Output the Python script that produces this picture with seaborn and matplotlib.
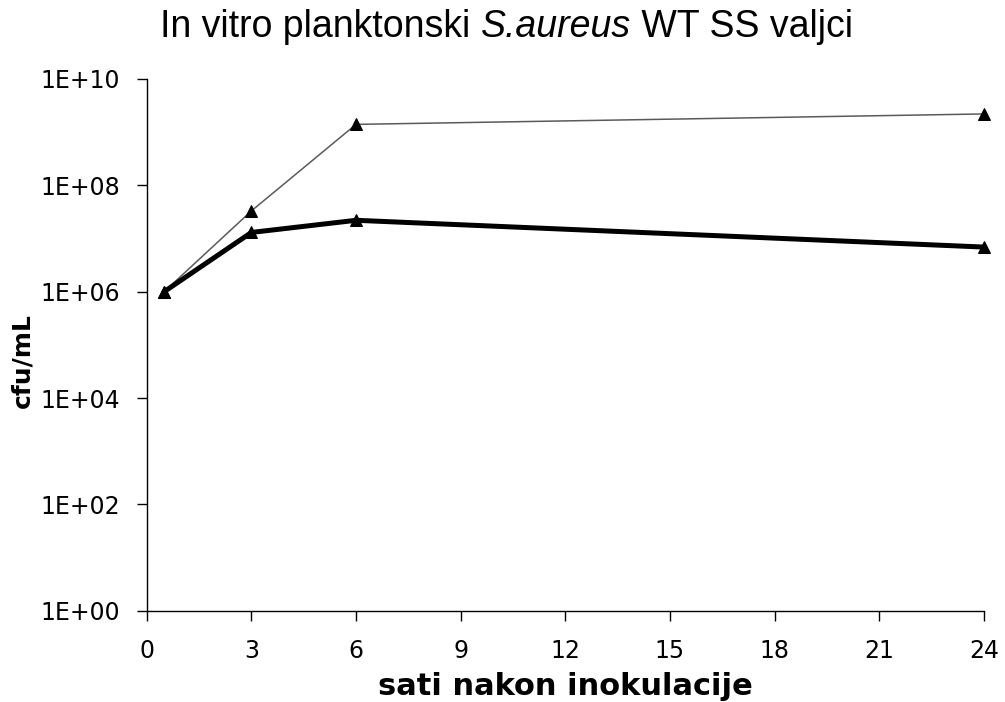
import numpy as np
import pandas as pd
import seaborn as sns
import matplotlib.pyplot as plt
from matplotlib.ticker import FixedLocator, FixedFormatter

# hours after inoculation and cfu/mL
hours = [0.5, 3, 6, 24]
cfu_thin = [1.0e6, 3.3e7, 1.4e9, 2.2e9]
cfu_thick = [1.0e6, 1.3e7, 2.2e7, 6.9e6]

x_ticks = [0, 3, 6, 9, 12, 15, 18, 21, 24]
y_ticks = [1e0, 1e2, 1e4, 1e6, 1e8, 1e10]
y_tick_labels = ["1E+00", "1E+02", "1E+04", "1E+06", "1E+08", "1E+10"]

title_parts = ["In vitro planktonski ", "S.aureus", " WT SS valjci"]

df = pd.DataFrame({
    "sati": hours * 2,
    "cfu": cfu_thin + cfu_thick,
    "serija": ["thin"] * len(hours) + ["thick"] * len(hours),
})

sns.set_style("ticks")
plt.rcParams['font.family'] = ['DejaVu Sans']
plt.rcParams['text.color'] = 'black'
plt.rcParams['axes.labelcolor'] = 'black'

fig = plt.figure(figsize=(10.05, 7.02), dpi=100)
ax = fig.add_axes([0.146, 0.13, 0.833, 0.7575])

sns.lineplot(data=df[df.serija == "thin"], x="sati", y="cfu", color="#5a5a5a",
             linewidth=1.1, marker="^", markersize=9, markerfacecolor="black",
             markeredgecolor="black", clip_on=False, ax=ax)
sns.lineplot(data=df[df.serija == "thick"], x="sati", y="cfu", color="black",
             linewidth=3.6, marker="^", markersize=9, markerfacecolor="black",
             markeredgecolor="black", clip_on=False, ax=ax)

ax.set_yscale("log")
ax.set_ylim(1e0, 1e10)
ax.set_xlim(0, 24)
ax.yaxis.set_major_locator(FixedLocator(y_ticks))
ax.yaxis.set_major_formatter(FixedFormatter(y_tick_labels))
ax.yaxis.set_minor_locator(FixedLocator([]))
ax.set_xticks(x_ticks)
ax.tick_params(axis="both", labelsize=17, length=7, width=1, direction="out",
               colors="black")
ax.tick_params(axis="y", pad=12)
ax.tick_params(axis="x", pad=13)
for s in ["top", "right"]:
    ax.spines[s].set_visible(False)
for s in ["left", "bottom"]:
    ax.spines[s].set_color("black")
    ax.spines[s].set_linewidth(1)

ax.set_xlabel("sati nakon inokulacije", fontsize=22, fontweight="bold", labelpad=7)
ax.set_ylabel("cfu/mL", fontsize=18, fontweight="bold")
ax.yaxis.set_label_coords(-0.134, 0.47)

# title in a narrow sans, with the species name in italics
renderer = fig.canvas.get_renderer()
x = 160 / 1005
y = 1 - 37 / 702
for i, part in enumerate(title_parts):
    t = fig.text(x, y, part, ha="left", va="baseline", fontsize=27,
                 family=["Liberation Sans Narrow", "Liberation Sans"],
                 style="italic" if i == 1 else "normal")
    x += t.get_window_extent(renderer).width / fig.bbox.width

fig.savefig("out.png", dpi=100, facecolor="white")
